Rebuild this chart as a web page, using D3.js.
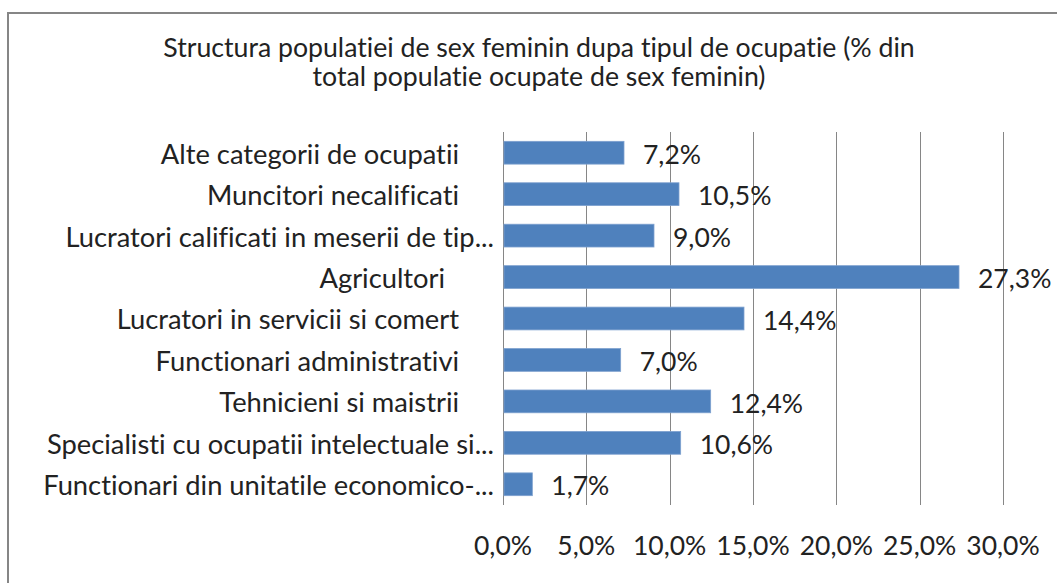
<!DOCTYPE html>
<html>
<head>
<meta charset="utf-8">
<script src="https://cdn.jsdelivr.net/npm/d3@7"></script>
<style>
  body { margin: 0; background: #fff; }
  svg text { font-family: Lato, "Open Sans", sans-serif; fill: #222; white-space: pre; font-variant-ligatures: none; font-feature-settings: "liga" 0, "clig" 0; }
</style>
</head>
<body>
<div id="chart"></div>
<script>
// categories top to bottom, trailing spaces as in the source labels
const categories = [
    "Alte categorii de ocupatii     ",
    "Muncitori necalificati     ",
    "Lucratori calificati in meserii de tip...",
    "Agricultori       ",
    "Lucratori in servicii si comert     ",
    "Functionari administrativi     ",
    "Tehnicieni si maistrii     ",
    "Specialisti cu ocupatii intelectuale si...",
    "Functionari din unitatile economico-..."
];
const values = [7.2, 10.5, 9.0, 27.3, 14.4, 7.0, 12.4, 10.6, 1.7];
const xTicks = [0, 5, 10, 15, 20, 25, 30];
const titleLines = [
    "Structura populatiei de sex feminin dupa tipul de ocupatie (% din",
    "total populatie ocupate de sex feminin)"
];

const W = 1057, H = 583;
const margin = {top: 132, left: 503, right: 1057 - 1003, bottom: 583 - 505};
const width = W - margin.left - margin.right;
const height = H - margin.top - margin.bottom;

const locale = d3.formatLocale({decimal: ",", thousands: ".", grouping: [3], currency: ["", ""]});
const fmt = locale.format(".1f");

const svg = d3.select("#chart").append("svg")
    .attr("width", W)
    .attr("height", H);

// measure helper: font size giving a target width
const probe = svg.append("text").attr("x", -9999).attr("y", -9999).style("font-size", "100px");
function fitSize(text, target){
    probe.text(text);
    return 100 * target / probe.node().getComputedTextLength();
}
const labelSize = fitSize("Functionari din unitatile economico-...", 451);
const tickSize = fitSize("5,0%", 58);
const titleSize = fitSize(titleLines[0], 752);
probe.remove();

// chart area border
svg.append("rect")
    .attr("x", 8).attr("y", 13)
    .attr("width", 1100).attr("height", 700)
    .attr("fill", "none")
    .attr("stroke", "#868686")
    .attr("stroke-width", 2);

// title
svg.append("g").selectAll("text")
    .data(titleLines)
    .join("text")
    .attr("x", 539)
    .attr("y", (d, i) => 57 + i * 29)
    .attr("text-anchor", "middle")
    .style("font-size", titleSize + "px")
    .text(d => d);

const g = svg.append("g")
    .attr("transform", "translate(" + margin.left + "," + margin.top + ")");

const xScale = d3.scaleLinear().domain([0, 30]).range([0, width]);
const yScale = d3.scaleBand().domain(categories).range([0, height])
    .paddingInner(0.45).paddingOuter(0.225);

// gridlines
g.append("g").selectAll("line")
    .data(xTicks)
    .join("line")
    .attr("x1", d => Math.round(xScale(d)) + 0.5)
    .attr("x2", d => Math.round(xScale(d)) + 0.5)
    .attr("y1", 0).attr("y2", height)
    .attr("stroke", "#868686")
    .attr("stroke-width", 1);

// tick labels
g.append("g").selectAll("text")
    .data(xTicks)
    .join("text")
    .attr("x", d => xScale(d))
    .attr("y", 555 - margin.top)
    .attr("text-anchor", "middle")
    .style("font-size", tickSize + "px")
    .text(d => fmt(d) + "%");

// bars
g.append("g").selectAll("rect")
    .data(values)
    .join("rect")
    .attr("x", xScale(0) + 1)
    .attr("y", (d, i) => yScale(categories[i]))
    .attr("width", d => xScale(d) - xScale(0))
    .attr("height", yScale.bandwidth())
    .attr("fill", "#4f81bd")
    .attr("stroke", "#7ea1cf")
    .attr("stroke-width", 0.8);

// category labels
g.append("g").selectAll("text")
    .data(categories)
    .join("text")
    .attr("x", -9)
    .attr("y", d => yScale(d) + yScale.bandwidth() / 2)
    .attr("dy", "0.4em")
    .attr("text-anchor", "end")
    .style("font-size", labelSize + "px")
    .text(d => d);

// value labels
g.append("g").selectAll("text")
    .data(values)
    .join("text")
    .attr("x", d => xScale(d) + 20)
    .attr("y", (d, i) => yScale(categories[i]) + yScale.bandwidth() / 2)
    .attr("dy", "0.42em")
    .style("font-size", tickSize + "px")
    .text(d => fmt(d) + "%");
</script>
</body>
</html>
